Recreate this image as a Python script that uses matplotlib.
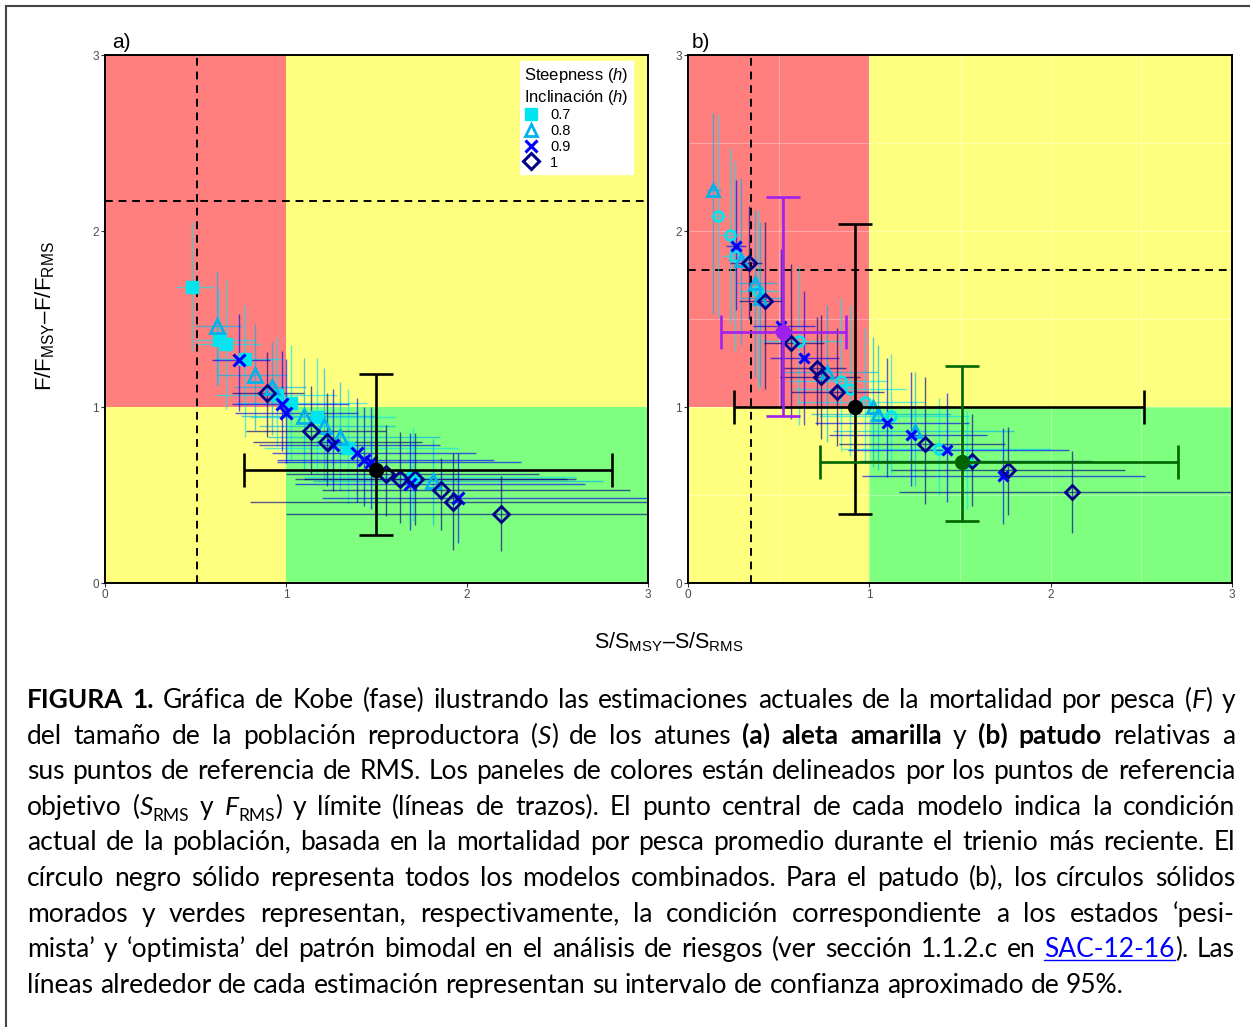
import matplotlib
matplotlib.use('Agg')
import matplotlib.pyplot as plt
from matplotlib.lines import Line2D
import numpy as np

plt.rcParams['font.family'] = ['Liberation Sans', 'DejaVu Sans']
plt.rcParams['mathtext.fontset'] = 'custom'
plt.rcParams['mathtext.rm'] = 'Liberation Sans'
plt.rcParams['mathtext.it'] = 'Liberation Sans:italic'

W, H = 1250, 1027

# ---------------------------------------------------------------------------
# data: (S/S_RMS, F/F_RMS, S low, S high, F low, F high) for each model
# ---------------------------------------------------------------------------
steep_labels = ['0.7', '0.8', '0.9', '1']

# a) aleta amarilla
a07 = [(0.48, 1.68, 0.39, 0.60, 1.32, 2.05),
       (0.63, 1.38, 0.50, 0.83, 1.13, 1.67),
       (0.67, 1.36, 0.51, 0.86, 0.99, 1.72),
       (0.775, 1.27, 0.60, 0.97, 0.83, 1.58),
       (0.95, 1.07, 0.61, 1.28, 0.78, 1.40),
       (1.03, 1.02, 0.72, 1.45, 0.70, 1.35),
       (1.17, 0.945, 0.80, 1.60, 0.62, 1.28),
       (1.34, 0.765, 0.88, 1.95, 0.45, 1.10),
       (1.70, 0.60, 1.10, 2.60, 0.35, 0.88)]
a08 = [(0.62, 1.46, 0.50, 0.755, 1.12, 1.77),
       (0.83, 1.18, 0.62, 1.00, 0.87, 1.47),
       (0.92, 1.115, 0.71, 1.11, 0.84, 1.37),
       (1.10, 0.95, 0.75, 1.50, 0.64, 1.28),
       (1.21, 0.89, 0.85, 1.60, 0.58, 1.22),
       (1.30, 0.83, 0.90, 1.85, 0.52, 1.14),
       (1.81, 0.58, 1.15, 2.75, 0.33, 0.82)]
a09 = [(0.74, 1.265, 0.59, 0.91, 0.98, 1.53),
       (0.98, 1.015, 0.70, 1.35, 0.75, 1.32),
       (1.00, 0.965, 0.72, 1.40, 0.68, 1.27),
       (1.26, 0.785, 0.85, 1.85, 0.52, 1.10),
       (1.39, 0.74, 0.92, 2.05, 0.46, 1.05),
       (1.43, 0.70, 0.95, 2.15, 0.44, 1.00),
       (1.47, 0.69, 0.95, 2.30, 0.42, 1.00),
       (1.685, 0.565, 1.05, 2.65, 0.30, 0.85),
       (1.95, 0.485, 1.20, 3.10, 0.23, 0.74)]
a10 = [(0.895, 1.08, 0.70, 1.10, 0.83, 1.31),
       (1.14, 0.865, 0.78, 1.55, 0.62, 1.12),
       (1.225, 0.80, 0.82, 1.75, 0.55, 1.08),
       (1.555, 0.62, 1.00, 2.40, 0.38, 0.90),
       (1.63, 0.59, 1.05, 2.55, 0.34, 0.86),
       (1.71, 0.59, 1.10, 2.60, 0.33, 0.85),
       (1.855, 0.53, 1.20, 2.90, 0.30, 0.71),
       (1.92, 0.46, 0.80, 3.20, 0.19, 0.74),
       (2.19, 0.39, 1.00, 3.20, 0.18, 0.61)]
a_all = (1.497, 0.642, 0.77, 2.80, 0.27, 1.19)
a_slim, a_flim = 0.51, 2.17

# b) patudo
b07 = [(0.165, 2.085, 0.12, 0.21, 1.51, 2.66),
       (0.23, 1.977, 0.175, 0.294, 1.48, 2.47),
       (0.257, 1.858, 0.19, 0.35, 1.32, 2.40),
       (0.386, 1.661, 0.28, 0.50, 1.10, 2.12),
       (0.612, 1.377, 0.40, 0.85, 0.90, 1.80),
       (0.846, 1.148, 0.55, 1.10, 0.75, 1.62),
       (0.892, 1.104, 0.58, 1.20, 0.72, 1.58),
       (0.974, 1.03, 0.60, 1.30, 0.68, 1.45),
       (1.118, 0.948, 0.72, 1.55, 0.62, 1.30),
       (1.386, 0.762, 0.85, 2.00, 0.50, 1.05),
       (1.54, 0.69, 0.95, 2.40, 0.42, 0.98)]
b08 = [(0.138, 2.233, 0.10, 0.18, 1.53, 2.67),
       (0.29, 1.835, 0.22, 0.38, 1.35, 2.30),
       (0.368, 1.706, 0.27, 0.49, 1.17, 2.12),
       (0.395, 1.62, 0.29, 0.52, 1.12, 2.05),
       (0.768, 1.20, 0.52, 1.05, 0.80, 1.58),
       (1.02, 1.00, 0.65, 1.40, 0.66, 1.40),
       (1.05, 0.96, 0.68, 1.45, 0.64, 1.35),
       (1.25, 0.862, 0.80, 1.80, 0.55, 1.20)]
b09 = [(0.267, 1.915, 0.21, 0.32, 1.55, 2.29),
       (0.515, 1.46, 0.36, 0.70, 1.00, 1.90),
       (0.64, 1.28, 0.45, 0.83, 0.90, 1.66),
       (1.098, 0.909, 0.70, 1.55, 0.60, 1.28),
       (1.228, 0.843, 0.78, 1.65, 0.55, 1.20),
       (1.427, 0.756, 0.88, 2.10, 0.46, 1.08),
       (1.738, 0.61, 0.96, 2.52, 0.335, 0.878)]
b10 = [(0.336, 1.816, 0.23, 0.41, 1.50, 2.14),
       (0.427, 1.604, 0.28, 0.53, 1.10, 2.05),
       (0.566, 1.365, 0.42, 0.75, 0.93, 1.81),
       (0.711, 1.223, 0.52, 0.87, 0.90, 1.51),
       (0.732, 1.172, 0.51, 0.95, 0.82, 1.52),
       (0.822, 1.083, 0.57, 1.08, 0.78, 1.45),
       (1.309, 0.789, 0.83, 1.75, 0.45, 1.17),
       (1.565, 0.695, 0.95, 2.23, 0.437, 0.96),
       (1.762, 0.64, 1.12, 2.41, 0.386, 0.884),
       (2.12, 0.515, 1.165, 3.20, 0.285, 0.75)]
b_all = (0.919, 1.00, 0.252, 2.516, 0.392, 2.04)
b_pes = (0.522, 1.427, 0.183, 0.872, 0.951, 2.195)   # pesimista (morado)
b_opt = (1.51, 0.69, 0.73, 2.70, 0.352, 1.234)       # optimista (verde)
b_slim, b_flim = 0.35, 1.78

# ---------------------------------------------------------------------------
RED, YEL, GRN = '#FF7F7F', '#FFFF7F', '#7FFF7F'
cols = ['#00E5EE', '#00B2EE', '#0000FF', '#00008B']

fig = plt.figure(figsize=(W / 100, H / 100), dpi=100)
axa = fig.add_axes([105 / W, 1 - 583 / H, 543 / W, 528 / H])
axb = fig.add_axes([688 / W, 1 - 583 / H, 544 / W, 528 / H])


def errs(rows, c, ax, alpha=0.65, lw=1.0):
    r = np.array(rows)
    ax.errorbar(r[:, 0], r[:, 1],
                xerr=[r[:, 0] - r[:, 2], r[:, 3] - r[:, 0]],
                yerr=[r[:, 1] - r[:, 4], r[:, 5] - r[:, 1]],
                fmt='none', ecolor=c, elinewidth=lw, alpha=alpha, zorder=2)


def big(ax, p, c):
    ax.errorbar([p[0]], [p[1]], xerr=[[p[0] - p[2]], [p[3] - p[0]]],
                yerr=[[p[1] - p[4]], [p[5] - p[1]]], fmt='o', color=c,
                ms=10, elinewidth=1.9, capsize=12, capthick=1.9, zorder=6)


def base(ax, slim, flim, grid=False):
    ax.fill_between([0, 1], 1, 3, color=RED, lw=0, zorder=0)
    ax.fill_between([1, 3], 1, 3, color=YEL, lw=0, zorder=0)
    ax.fill_between([0, 1], 0, 1, color=YEL, lw=0, zorder=0)
    ax.fill_between([1, 3], 0, 1, color=GRN, lw=0, zorder=0)
    if grid:
        for v in np.arange(0.5, 3, 0.5):
            ax.axvline(v, color='white', lw=0.8, alpha=0.3, zorder=0.5)
            ax.axhline(v, color='white', lw=0.8, alpha=0.3, zorder=0.5)
    ax.axvline(slim, color='black', lw=1.4, ls=(0, (4, 3)), zorder=1.5)
    ax.axhline(flim, color='black', lw=1.4, ls=(0, (4, 3)), zorder=1.5)
    ax.set_xlim(0, 3)
    ax.set_ylim(0, 3)
    ax.set_xticks([0, 1, 2, 3])
    ax.set_yticks([0, 1, 2, 3])
    ax.tick_params(labelsize=8.5, labelcolor='#4D4D4D', color='#333333',
                   length=3, width=0.8, pad=1.5)
    for sp in ax.spines.values():
        sp.set_linewidth(1.4)


# panel a
base(axa, a_slim, a_flim)
for rows, c in zip([a07, a08, a09, a10], cols):
    errs(rows, c, axa)
r = np.array(a07)
axa.plot(r[:, 0], r[:, 1], 's', color=cols[0], ms=9, ls='', zorder=3)
r = np.array(a08)
axa.plot(r[:, 0], r[:, 1], '^', mfc='none', mec=cols[1], mew=2, ms=10, ls='', zorder=3)
r = np.array(a09)
axa.plot(r[:, 0], r[:, 1], 'x', color=cols[2], mew=2.2, ms=8, ls='', zorder=3)
r = np.array(a10)
axa.plot(r[:, 0], r[:, 1], 'D', mfc='none', mec=cols[3], mew=2, ms=8, ls='', zorder=3)
big(axa, a_all, 'black')

handles = [Line2D([], [], marker='s', color=cols[0], ms=8, ls=''),
           Line2D([], [], marker='^', mfc='none', mec=cols[1], mew=2, ms=9, ls=''),
           Line2D([], [], marker='x', color=cols[2], mew=2.2, ms=8, ls=''),
           Line2D([], [], marker='D', mfc='none', mec=cols[3], mew=2.2, ms=8, ls='')]
leg = axa.legend(handles, steep_labels,
                 title='Steepness ($\\it{h}$)\nInclinación ($\\it{h}$)',
                 loc='upper right', bbox_to_anchor=(0.972, 0.988), borderaxespad=0,
                 fontsize=10.5, title_fontsize=12, frameon=True, fancybox=False,
                 framealpha=1, edgecolor='white', labelspacing=0.12,
                 handlelength=1.0, handletextpad=0.8, borderpad=0.3,
                 alignment='left')
leg.set_zorder(10)

# panel b
base(axb, b_slim, b_flim, grid=True)
for rows, c in zip([b07, b08, b09, b10], cols):
    errs(rows, c, axb)
r = np.array(b07)
axb.plot(r[:, 0], r[:, 1], 'o', mfc='none', mec=cols[0], mew=2, ms=7, ls='', zorder=3)
r = np.array(b08)
axb.plot(r[:, 0], r[:, 1], '^', mfc='none', mec=cols[1], mew=2, ms=8, ls='', zorder=3)
r = np.array(b09)
axb.plot(r[:, 0], r[:, 1], 'x', color=cols[2], mew=2.2, ms=7, ls='', zorder=3)
r = np.array(b10)
axb.plot(r[:, 0], r[:, 1], 'D', mfc='none', mec=cols[3], mew=2, ms=7, ls='', zorder=3)
big(axb, b_all, 'black')
big(axb, b_pes, '#A020F0')
big(axb, b_opt, '#006400')

# labels
fig.text(112 / W, 1 - 48 / H, 'a)', fontsize=15, va='baseline')
fig.text(692 / W, 1 - 48 / H, 'b)', fontsize=15, va='baseline')
fig.text(45 / W, 1 - 316 / H, r'$\mathregular{F/F_{MSY}–F/F_{RMS}}$', rotation=90,
         fontsize=16, ha='center', va='center')
fig.text(669 / W, 1 - 642 / H, r'$\mathregular{S/S_{MSY}–S/S_{RMS}}$',
         fontsize=15.5, ha='center', va='center')

# frame round the figure
fig.add_artist(Line2D([6 / W, 6 / W], [0, 1 - 6 / H], color='#444444', lw=1.5))
fig.add_artist(Line2D([6 / W, 1], [1 - 6 / H, 1 - 6 / H], color='#444444', lw=1.5))

# ---------------------------------------------------------------------------
# caption (justified)  # bold, ~ italic, ^ subscript, @ link
cap_lines = [
    "#FIGURA 1.# Gráfica de Kobe (fase) ilustrando las estimaciones actuales de la mortalidad por pesca (~F~) y",
    "del tamaño de la población reproductora (~S~) de los atunes #(a) aleta amarilla# y #(b) patudo# relativas a",
    "sus puntos de referencia de RMS. Los paneles de colores están delineados por los puntos de referencia",
    "objetivo (~S~^RMS^ y ~F~^RMS^) y límite (líneas de trazos). El punto central de cada modelo indica la condición",
    "actual de la población, basada en la mortalidad por pesca promedio durante el trienio más reciente. El",
    "círculo negro sólido representa todos los modelos combinados. Para el patudo (b), los círculos sólidos",
    "morados y verdes representan, respectivamente, la condición correspondiente a los estados ‘pesi-",
    "mista’ y ‘optimista’ del patrón bimodal en el análisis de riesgos (ver sección 1.1.2.c en @SAC-12-16@). Las",
    "líneas alrededor de cada estimación representan su intervalo de confianza aproximado de 95%.",
]
CAP_FONT = 'Lato'
cap_left, cap_right = 27, 1235
cap_base0, cap_step = 708, 35.6
MARK = {'#': 'b', '~': 'i', '^': 'sub', '@': 'link'}


def parse_line(line):
    words, runs, buf, st = [], [], '', set()
    for ch in line + ' ':
        if ch in MARK or ch == ' ':
            if buf:
                runs.append((buf, frozenset(st)))
                buf = ''
            if ch == ' ':
                if runs:
                    words.append(runs)
                runs = []
            else:
                st ^= {MARK[ch]}
        else:
            buf += ch
    return words


def style_kw(st, fs):
    return dict(fontsize=fs * (0.66 if 'sub' in st else 1.0),
                fontweight='bold' if 'b' in st else 'normal',
                fontstyle='italic' if 'i' in st else 'normal',
                color='#0000FF' if 'link' in st else 'black',
                family=CAP_FONT, va='baseline')


renderer = fig.canvas.get_renderer()


def tw(s, st, fs):
    t = fig.text(0, 0, s, **style_kw(st, fs))
    w = t.get_window_extent(renderer).width
    t.remove()
    return w


parsed = [parse_line(l) for l in cap_lines]
fs0 = 16
sp0 = tw('a a', frozenset(), fs0) - tw('aa', frozenset(), fs0)
nat = [sum(tw(s, st, fs0) for w in ws for s, st in w) + sp0 * (len(ws) - 1)
       for ws in parsed[:-1]]
fs = fs0 * 1192 / max(nat)
sp = tw('a a', frozenset(), fs) - tw('aa', frozenset(), fs)

for i, ws in enumerate(parsed):
    yb = cap_base0 + i * cap_step
    widths = [[tw(s, st, fs) for s, st in w] for w in ws]
    total = sum(sum(w) for w in widths)
    gap = sp if i == len(parsed) - 1 else (cap_right - cap_left - total) / (len(ws) - 1)
    x = cap_left
    for w, wl in zip(ws, widths):
        for (s, st), wd in zip(w, wl):
            y = yb + (0.22 * fs * 100 / 72 if 'sub' in st else 0)
            fig.text(x / W, 1 - y / H, s, **style_kw(st, fs))
            if 'link' in st:
                fig.add_artist(Line2D([x / W, (x + wd) / W], [1 - (yb + 3) / H] * 2,
                                      color='#0000FF', lw=1))
            x += wd
        x += gap

fig.savefig('out.png', dpi=100)
